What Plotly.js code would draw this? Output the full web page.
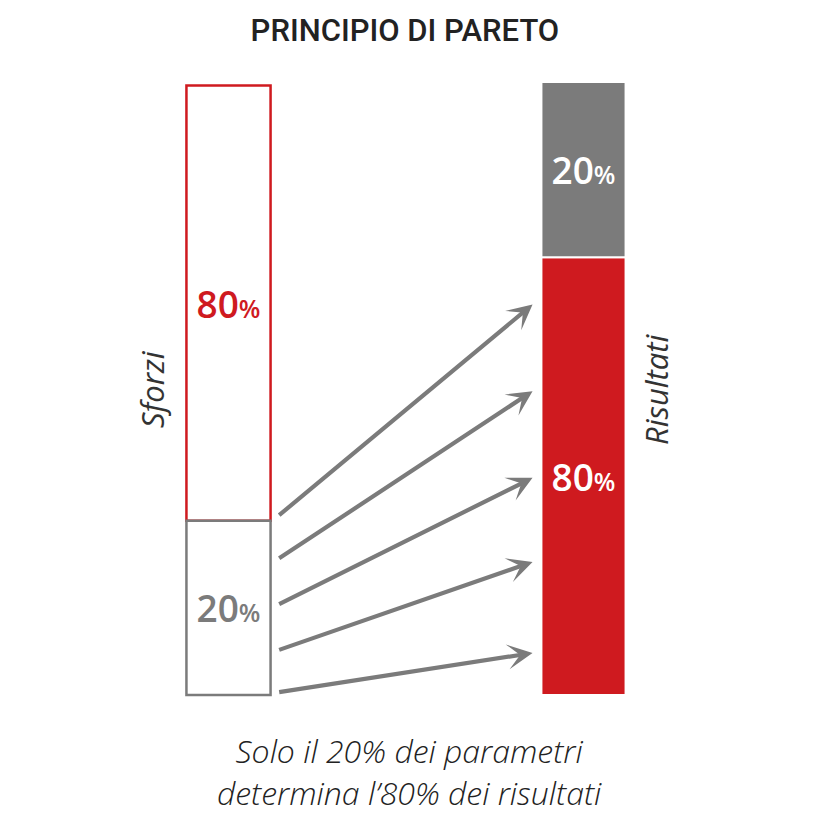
<!DOCTYPE html>
<html>
<head>
<meta charset="utf-8">
<script src="https://cdn.plot.ly/plotly-3.0.1.min.js"></script>
<style>html,body{margin:0;padding:0;background:#fff;}#chart{width:818px;height:820px;}</style>
</head>
<body>
<div id="chart"></div>
<script>
// ---- data ----
const categories = ['Sforzi', 'Risultati'];
const barPos = [0, 1];
const segLabels = ['20%', '80%'];
// drawn segment heights (picture is not to scale): [20% segment, 80% segment]
const sforziHeights = [1.99, 4.97];   // 20% at bottom, 80% on top
const risultatiHeights = [2, 5];      // 80% at bottom, 20% on top
// arrows: level on the Sforzi bar where each starts, level on the Risultati bar where it ends
const arrowFrom = [0.03, 0.51, 1.03, 1.55, 2.04];
const arrowTo   = [0.48, 1.52, 2.48, 3.47, 4.46];
const title = 'PRINCIPIO DI PARETO';
const caption = ['Solo il 20% dei parametri', 'determina l\u201980% dei risultati'];

// ---- style ----
const RED = '#cf1a1f', GRAY = '#7b7b7b', WHITE = '#ffffff';
const BW = 0.237;
function pct(s, size) {
  return s.replace('%', '<span style="font-size:' + size + 'px">%</span>');
}

// 80% segments (drawn first)
const t80 = {
  type: 'bar', x: barPos, width: BW,
  base: [sforziHeights[0], 0],
  y: [sforziHeights[1], risultatiHeights[1]],
  marker: { color: [WHITE, RED], line: { color: [RED, WHITE], width: [2.5, 2] } },
  text: [pct(segLabels[1], 25), pct(segLabels[1], 25)],
  textposition: 'inside', insidetextanchor: 'middle', constraintext: 'none',
  textfont: { family: 'Open Sans', size: 37, weight: 600, color: [RED, WHITE] },
  hoverinfo: 'skip'
};
// 20% segments (drawn second)
const t20 = {
  type: 'bar', x: barPos, width: BW,
  base: [0, risultatiHeights[1]],
  y: [sforziHeights[0], risultatiHeights[0]],
  marker: { color: [WHITE, GRAY], line: { color: [GRAY, WHITE], width: [2.5, 2] } },
  text: [pct(segLabels[0], 25), pct(segLabels[0], 25)],
  textposition: 'inside', insidetextanchor: 'middle', constraintext: 'none',
  textfont: { family: 'Open Sans', size: 37, weight: 600, color: [GRAY, WHITE] },
  hoverinfo: 'skip'
};

const annotations = [];
const tailX = barPos[0] + BW / 2 + 0.02;
const headX = barPos[1] - BW / 2 - 0.025;
for (let i = 0; i < arrowFrom.length; i++) {
  annotations.push({
    x: headX, y: arrowTo[i], xref: 'x', yref: 'y',
    ax: tailX, ay: arrowFrom[i], axref: 'x', ayref: 'y',
    showarrow: true, arrowhead: 3, arrowsize: 1, arrowwidth: 4.2,
    arrowcolor: GRAY, text: '', standoff: 0
  });
}
const sideFont = { family: 'Open Sans', size: 31, style: 'italic', weight: 400, color: '#333' };
annotations.push({
  text: categories[0], xref: 'paper', yref: 'paper', x: 152 / 818, y: 1 - 389 / 820,
  textangle: -90, showarrow: false, xanchor: 'center', yanchor: 'middle', font: sideFont
});
annotations.push({
  text: categories[1], xref: 'paper', yref: 'paper', x: 656 / 818, y: 1 - 389 / 820,
  textangle: -90, showarrow: false, xanchor: 'center', yanchor: 'middle', font: sideFont
});
annotations.push({
  text: caption.join('<br>'), xref: 'paper', yref: 'paper', x: 0.5, y: 1 - 771 / 820,
  showarrow: false, xanchor: 'center', yanchor: 'middle', align: 'center',
  font: { family: 'Open Sans', size: 32, style: 'italic', weight: 300, color: '#222' }
});

const layout = {
  width: 818, height: 820,
  margin: { l: 0, r: 0, t: 0, b: 0 },
  paper_bgcolor: WHITE, plot_bgcolor: WHITE,
  showlegend: false, barmode: 'overlay',
  title: { text: title, x: 0.495, xanchor: 'center', y: 1 - 30 / 820, yanchor: 'middle',
           font: { family: 'Roboto', size: 31, weight: 500, color: '#222' } },
  xaxis: { range: [-0.6437, 1.6606], visible: false, fixedrange: true },
  yaxis: { range: [-1.427, 7.937], visible: false, fixedrange: true },
  annotations: annotations
};

Plotly.newPlot('chart', [t80, t20], layout, { displayModeBar: false, staticPlot: true });
</script>
</body>
</html>
